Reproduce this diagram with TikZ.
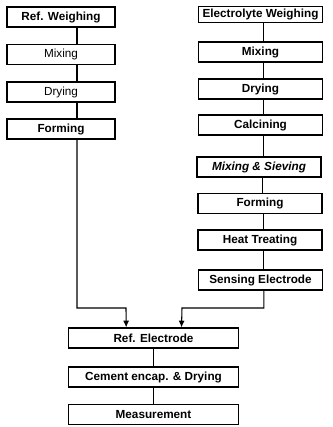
\documentclass[tikz,border=0pt]{standalone}
\usepackage{fontspec}
\setmainfont{Liberation Sans}
\usetikzlibrary{positioning, arrows.meta, calc}

\begin{document}
\begin{tikzpicture}[
        x=0.75pt, y=-0.75pt,
        procstep/.style={draw, rectangle, minimum height=15pt, inner sep=1pt, align=center, line width=0.95pt, font=\fontsize{8.8}{10}\selectfont\bfseries},
        refstep/.style={procstep, minimum width=81pt},
        elstep/.style={procstep, minimum width=93pt},
        endstep/.style={procstep, minimum width=128pt},
        plain/.style={font=\fontsize{8.8}{10}\selectfont},
        link/.style={line width=0.8pt},
        arrow/.style={link, -{Latex[length=5pt, width=4.5pt]}}
    ]
    \useasboundingbox (0,0) rectangle (332,427);

    % --- Reference branch ---
    \node[refstep] (refweigh) at (61, 17) {Ref. Weighing};
    \node[refstep, plain] (refmix) at (61, 54.5) {Mixing};
    \node[refstep, plain] (refdry) at (61, 92) {Drying};
    \node[refstep] (refform) at (61, 129) {Forming};

    % --- Electrolyte branch ---
    \node[elstep, minimum height=12pt] (elweigh) at (260.5, 14.5) {Electrolyte Weighing};
    \node[elstep] (elmix) at (260.5, 52) {Mixing};
    \node[elstep] (eldry) at (260.5, 89) {Drying};
    \node[elstep] (calcine) at (260.5, 125) {Calcining};
    \node[elstep] (sieve) at (259, 167) {\itshape Mixing \& Sieving};
    \node[elstep] (elform) at (260, 203.5) {Forming};
    \node[elstep] (heat) at (260, 240) {Heat Treating};
    \node[elstep] (sensing) at (260.5, 280) {Sensing Electrode};

    % --- Common steps ---
    \node[endstep] (refelec) at (153.5, 338) {Ref. Electrode};
    \node[endstep] (cement) at (153.5, 377) {Cement encap. \& Drying};
    \node[endstep] (measure) at (153.5, 414.5) {Measurement};

    % --- Connectors ---
    \draw[link] ([xshift=12pt]refweigh.south) -- ([xshift=12pt]refweigh.south |- refmix.north);
    \draw[link] ([xshift=12pt]refmix.south) -- ([xshift=12pt]refmix.south |- refdry.north);
    \draw[link] ([xshift=12pt]refdry.south) -- ([xshift=12pt]refdry.south |- refform.north);
    \draw[link] ([xshift=2.5pt]elweigh.south) -- ([xshift=2.5pt]elweigh.south |- elmix.north);
    \draw[link] ([xshift=2.5pt]elmix.south) -- ([xshift=2.5pt]elmix.south |- eldry.north);
    \draw[link] ([xshift=2.5pt]eldry.south) -- ([xshift=2.5pt]eldry.south |- calcine.north);
    \draw[link] ([xshift=2.5pt]calcine.south) -- ([xshift=2.5pt]calcine.south |- sieve.north);
    \draw[link] ([xshift=2.5pt]sieve.south) -- ([xshift=2.5pt]sieve.south |- elform.north);
    \draw[link] ([xshift=2.5pt]elform.south) -- ([xshift=2.5pt]elform.south |- heat.north);
    \draw[link] ([xshift=2.5pt]heat.south) -- ([xshift=2.5pt]heat.south |- sensing.north);
    \draw[link] (refelec) -- (cement);
    \draw[link] (cement) -- (measure);

    % --- Merge into reference electrode ---
    \draw[arrow] ([xshift=12pt]refform.south) |- (126, 308) -- ([xshift=-20.5pt]refelec.north);
    \draw[arrow] ([xshift=2.5pt]sensing.south) |- (182, 308) -- ([xshift=21pt]refelec.north);

\end{tikzpicture}
\end{document}
